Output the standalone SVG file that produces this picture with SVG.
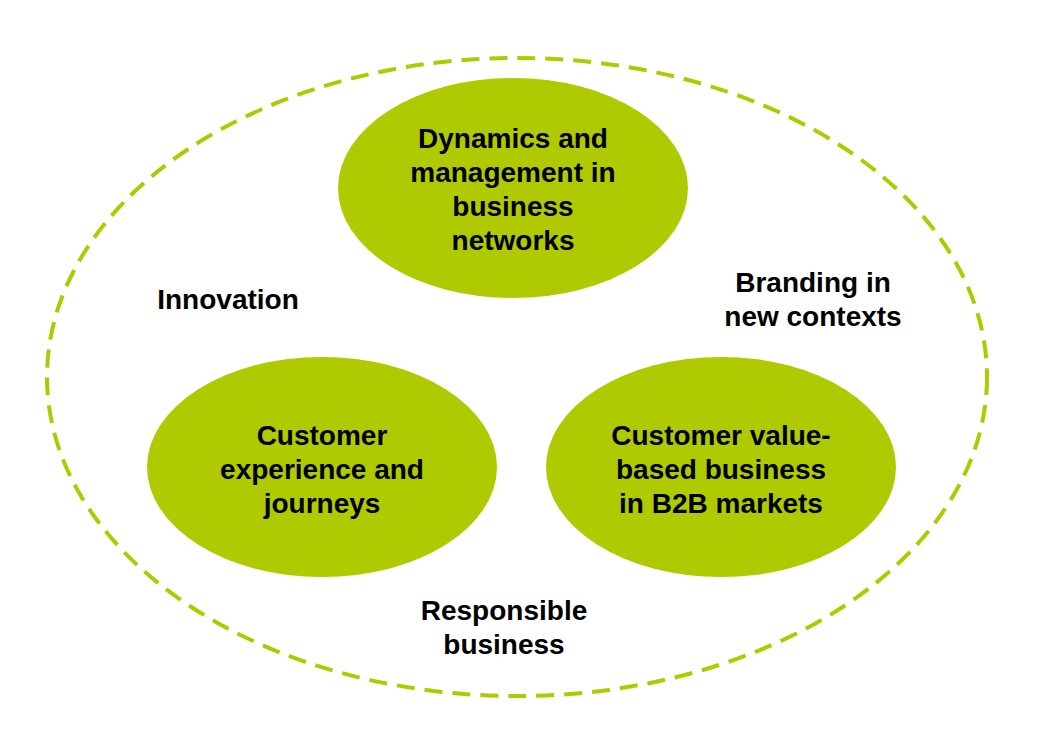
<svg xmlns="http://www.w3.org/2000/svg" width="1047" height="729" viewBox="0 0 1047 729">
<style>
.t{font-family:"Liberation Sans",Arial,sans-serif;font-weight:bold;font-size:28px;fill:#000;text-anchor:middle}
.n{fill:#afca00}
</style>
<rect width="1047" height="729" fill="#fff"/>
<g id="outer"><ellipse cx="517" cy="377" rx="470" ry="319" fill="none" stroke="#afca00" stroke-width="4" stroke-dasharray="18 10"/></g>
<g id="connectors"></g>
<g id="n1"><ellipse class="n" cx="513" cy="188" rx="175" ry="110"/>
<text class="t" x="513" y="148">Dynamics and</text><text class="t" x="513" y="182">management in</text><text class="t" x="513" y="216">business</text><text class="t" x="513" y="250">networks</text></g>
<g id="n2"><ellipse class="n" cx="322" cy="467" rx="175" ry="110"/>
<text class="t" x="322" y="445">Customer</text><text class="t" x="322" y="479">experience and</text><text class="t" x="322" y="513">journeys</text></g>
<g id="n3"><ellipse class="n" cx="721" cy="467" rx="175" ry="110"/>
<text class="t" x="721" y="445">Customer value-</text><text class="t" x="721" y="479">based business</text><text class="t" x="721" y="513">in B2B markets</text></g>
<g id="l1"><text class="t" x="228" y="309">Innovation</text></g>
<g id="l2"><text class="t" x="813" y="292">Branding in</text><text class="t" x="813" y="326">new contexts</text></g>
<g id="l3"><text class="t" x="504" y="620">Responsible</text><text class="t" x="504" y="654">business</text></g>
</svg>
